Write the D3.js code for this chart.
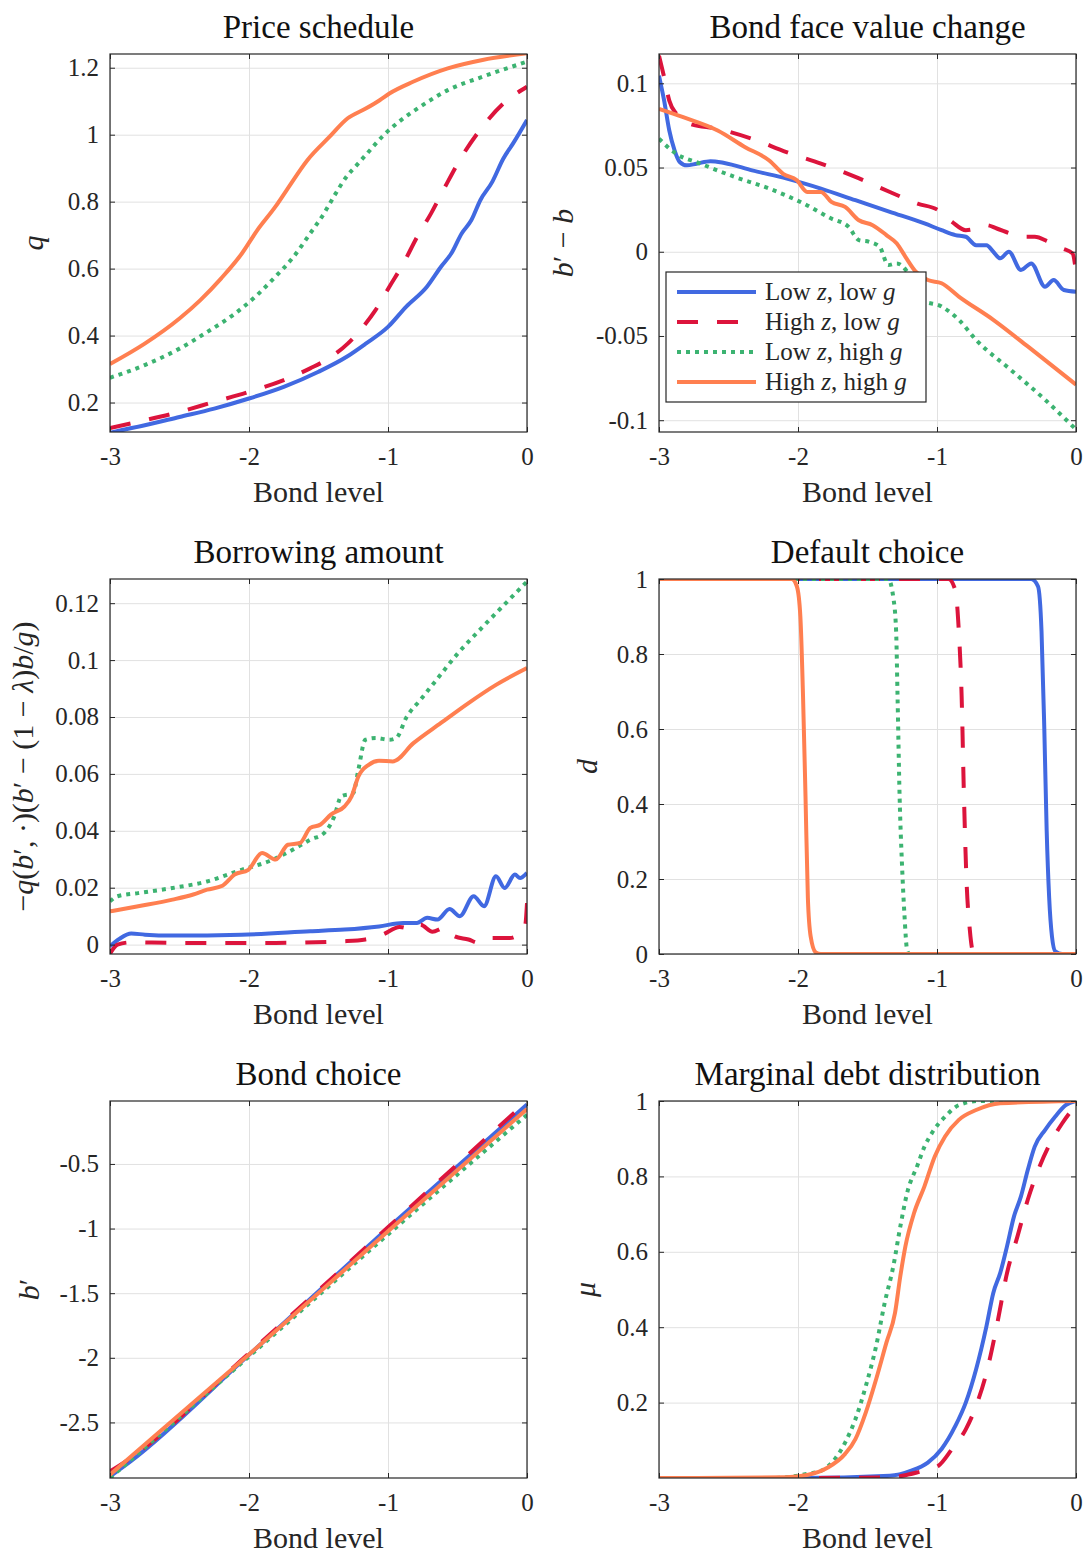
<!DOCTYPE html>
<html>
<head>
<meta charset="utf-8">
<script src="https://cdn.jsdelivr.net/npm/d3@7"></script>
<style>
  body { margin: 0; background: #fff; }
  svg text { font-family: "Liberation Serif", "Times New Roman", serif; }
</style>
</head>
<body>
<svg id="fig" width="1086" height="1555"></svg>
<script>
// ---- data ----
var bondTicks = [-3, -2, -1, 0];

// Price schedule, q
var qBlue = [[-3,0.110],[-2.75,0.132],[-2.5,0.157],[-2.25,0.182],[-2,0.212],[-1.75,0.247],[-1.5,0.292],[-1.3,0.336],[-1.16,0.376],[-1.0,0.426],[-0.87,0.486],[-0.72,0.546],[-0.62,0.605],[-0.545,0.645],[-0.47,0.705],[-0.40,0.745],[-0.335,0.805],[-0.25,0.859],[-0.17,0.929],[-0.1,0.974],[0,1.044]];
var qRed = [[-3,0.124],[-2.75,0.147],[-2.5,0.172],[-2.25,0.202],[-2,0.232],[-1.75,0.267],[-1.56,0.302],[-1.41,0.336],[-1.29,0.376],[-1.19,0.421],[-1.09,0.476],[-0.99,0.546],[-0.89,0.615],[-0.79,0.695],[-0.69,0.765],[-0.59,0.844],[-0.47,0.934],[-0.32,1.024],[-0.17,1.093],[0,1.143]];
var qGreen = [[-3,0.274],[-2.75,0.312],[-2.5,0.361],[-2.3,0.411],[-2.1,0.466],[-1.955,0.516],[-1.81,0.576],[-1.68,0.635],[-1.56,0.705],[-1.46,0.765],[-1.39,0.815],[-1.29,0.879],[-1.225,0.909],[-1.15,0.944],[-1.03,0.999],[-0.92,1.039],[-0.77,1.083],[-0.57,1.133],[-0.32,1.173],[0,1.218]];
var qOrange = [[-3,0.315],[-2.75,0.376],[-2.5,0.451],[-2.35,0.506],[-2.2,0.571],[-2.05,0.646],[-1.94,0.715],[-1.81,0.785],[-1.73,0.834],[-1.58,0.924],[-1.42,0.994],[-1.29,1.049],[-1.16,1.078],[-1.06,1.103],[-0.99,1.123],[-0.82,1.158],[-0.57,1.198],[-0.32,1.223],[0,1.243]];
var qTicks = [0.2, 0.4, 0.6, 0.8, 1, 1.2];

// Bond face value change, b' - b
var dbBlue = [[-3,0.1045],[-2.963,0.0897],[-2.926,0.072],[-2.888,0.0602],[-2.851,0.0533],[-2.80,0.0513],[-2.73,0.0523],[-2.63,0.0538],[-2.53,0.0527],[-2.33,0.0483],[-2.08,0.0434],[-1.835,0.0375],[-1.587,0.0306],[-1.339,0.0237],[-1.09,0.0168],[-0.967,0.0128],[-0.868,0.0099],[-0.793,0.0089],[-0.719,0.0039],[-0.644,0.0039],[-0.595,0.0],[-0.545,-0.0039],[-0.483,0.0],[-0.396,-0.0108],[-0.322,-0.0069],[-0.223,-0.0207],[-0.161,-0.0168],[-0.087,-0.0227],[0,-0.0237]];
var dbRed = [[-3,0.1164],[-2.963,0.1036],[-2.926,0.0897],[-2.876,0.0819],[-2.777,0.0759],[-2.578,0.0730],[-2.331,0.0671],[-2.083,0.0592],[-1.835,0.0523],[-1.587,0.0444],[-1.339,0.0355],[-1.14,0.0286],[-0.992,0.0247],[-0.892,0.0178],[-0.793,0.0128],[-0.719,0.0138],[-0.644,0.0158],[-0.57,0.0138],[-0.471,0.0108],[-0.396,0.0089],[-0.297,0.0089],[-0.198,0.0059],[-0.099,0.0020],[-0.025,-0.001],[0,-0.0118]];
var dbGreen = [[-3,0.0671],[-2.876,0.0582],[-2.702,0.0523],[-2.454,0.0444],[-2.207,0.0375],[-1.959,0.0286],[-1.76,0.0197],[-1.636,0.0148],[-1.562,0.0069],[-1.488,0.0059],[-1.413,0.0030],[-1.351,-0.0079],[-1.289,-0.0069],[-1.215,-0.0118],[-1.116,-0.0286],[-0.967,-0.0325],[-0.843,-0.0404],[-0.719,-0.0523],[-0.471,-0.0700],[-0.223,-0.0878],[0,-0.1055]];
var dbOrange = [[-3,0.0848],[-2.826,0.0799],[-2.578,0.072],[-2.38,0.0621],[-2.207,0.0542],[-2.107,0.0463],[-2.008,0.0424],[-1.934,0.0355],[-1.835,0.0355],[-1.76,0.0296],[-1.661,0.0266],[-1.562,0.0187],[-1.463,0.0158],[-1.364,0.0099],[-1.289,0.0049],[-1.227,-0.003],[-1.153,-0.0118],[-1.066,-0.0168],[-0.967,-0.0187],[-0.843,-0.0266],[-0.595,-0.0404],[-0.347,-0.0562],[0,-0.0789]];
var dbTicks = [-0.1, -0.05, 0, 0.05, 0.1];

// Borrowing amount
var baBlue = [[-3,-0.0006],[-2.933,0.0020],[-2.847,0.0039],[-2.748,0.0035],[-2.55,0.0032],[-2.054,0.0035],[-1.559,0.0047],[-1.312,0.0053],[-1.064,0.0064],[-0.891,0.0076],[-0.792,0.0076],[-0.718,0.0094],[-0.644,0.0088],[-0.557,0.0125],[-0.483,0.0100],[-0.384,0.0170],[-0.309,0.0135],[-0.223,0.0240],[-0.161,0.0199],[-0.087,0.0246],[-0.05,0.0234],[0,0.0252]];
var baRed = [[-3,-0.0032],[-2.946,0.0],[-2.847,0.0008],[-2.55,0.0006],[-1.807,0.0006],[-1.312,0.0012],[-1.163,0.0018],[-1.04,0.0035],[-0.916,0.0062],[-0.817,0.0053],[-0.767,0.0070],[-0.68,0.0045],[-0.594,0.0059],[-0.52,0.0029],[-0.421,0.0018],[-0.347,0.0006],[-0.272,0.0023],[-0.124,0.0023],[-0.05,0.0041],[-0.012,0.0070],[0,0.0146]];
var baGreen = [[-3,0.0152],[-2.946,0.0170],[-2.797,0.0181],[-2.55,0.0199],[-2.302,0.0222],[-2.054,0.0263],[-1.856,0.0293],[-1.683,0.0334],[-1.559,0.0369],[-1.46,0.0392],[-1.386,0.0451],[-1.337,0.0521],[-1.25,0.0533],[-1.213,0.0615],[-1.163,0.0720],[-1.089,0.0726],[-0.99,0.0720],[-0.941,0.0726],[-0.866,0.0800],[-0.767,0.0860],[-0.644,0.0935],[-0.495,0.1025],[-0.322,0.1115],[-0.173,0.1190],[0,0.1276]];
var baOrange = [[-3,0.0117],[-2.797,0.0135],[-2.55,0.0158],[-2.401,0.0176],[-2.302,0.0193],[-2.191,0.0207],[-2.104,0.0246],[-2.005,0.0263],[-1.906,0.0322],[-1.807,0.0299],[-1.72,0.0351],[-1.634,0.0357],[-1.559,0.0410],[-1.485,0.0422],[-1.411,0.0457],[-1.312,0.0486],[-1.262,0.0521],[-1.213,0.0591],[-1.139,0.0632],[-1.064,0.0646],[-0.965,0.0644],[-0.817,0.0708],[-0.619,0.0779],[-0.421,0.0849],[-0.223,0.0913],[0,0.0972]];
var baTicks = [0, 0.02, 0.04, 0.06, 0.08, 0.1, 0.12];

// Default choice, d
var dBlue = [[-3,1],[-0.322,1],[-0.273,0.98],[-0.248,0.86],[-0.228,0.60],[-0.211,0.33],[-0.193,0.15],[-0.173,0.047],[-0.149,0.007],[-0.099,0],[0,0]];
var dRed = [[-3,1],[-0.917,1],[-0.868,0.97],[-0.843,0.86],[-0.823,0.69],[-0.806,0.42],[-0.788,0.20],[-0.764,0.065],[-0.744,0.01],[-0.72,0],[0,0]];
var dGreen = [[-3,1],[-1.351,1],[-1.314,0.95],[-1.294,0.86],[-1.284,0.69],[-1.269,0.42],[-1.252,0.24],[-1.235,0.11],[-1.215,0.01],[-1.2,0],[0,0]];
var dOrange = [[-3,1],[-2.045,1],[-2.008,0.98],[-1.983,0.90],[-1.964,0.69],[-1.946,0.42],[-1.929,0.15],[-1.909,0.047],[-1.872,0.004],[-1.835,0],[0,0]];
var dTicks = [0, 0.2, 0.4, 0.6, 0.8, 1];

// Bond choice, b'
var bcBlue = [[-3,-2.918],[-2.85,-2.80],[-2,-1.977],[-1,-0.995],[0,-0.04]];
var bcRed = [[-3,-2.879],[-2.87,-2.789],[-2,-1.964],[-1,-0.99],[0,-0.015]];
var bcGreen = [[-3,-2.93],[-2,-1.99],[-1,-1.045],[0,-0.12]];
var bcOrange = [[-3,-2.905],[-2,-1.975],[-1,-1.02],[0,-0.075]];
var bcTicks = [-2.5, -2, -1.5, -1, -0.5];

// Marginal debt distribution, mu
var mBlue = [[-3,0],[-2,0],[-1.339,0.006],[-1.19,0.019],[-1.066,0.041],[-0.967,0.077],[-0.868,0.138],[-0.793,0.2],[-0.719,0.288],[-0.644,0.403],[-0.595,0.491],[-0.545,0.544],[-0.496,0.615],[-0.446,0.694],[-0.396,0.747],[-0.347,0.817],[-0.297,0.879],[-0.223,0.923],[-0.149,0.959],[-0.074,0.989],[0,1]];
var mRed = [[-3,0],[-2,0],[-1.339,0.002],[-1.14,0.015],[-0.992,0.032],[-0.892,0.077],[-0.793,0.129],[-0.719,0.191],[-0.644,0.279],[-0.57,0.403],[-0.496,0.544],[-0.421,0.641],[-0.347,0.738],[-0.272,0.817],[-0.198,0.879],[-0.099,0.941],[0,0.99]];
var mGreen = [[-3,0],[-2.2,0],[-2.083,0.002],[-1.934,0.011],[-1.835,0.019],[-1.735,0.05],[-1.661,0.094],[-1.587,0.156],[-1.512,0.244],[-1.438,0.35],[-1.376,0.465],[-1.314,0.562],[-1.264,0.667],[-1.215,0.756],[-1.14,0.83],[-1.09,0.879],[-1.03,0.919],[-0.94,0.959],[-0.843,0.989],[-0.7,1],[0,1]];
var mOrange = [[-3,0],[-2.083,0.002],[-1.934,0.008],[-1.785,0.028],[-1.661,0.064],[-1.587,0.103],[-1.512,0.174],[-1.438,0.262],[-1.364,0.359],[-1.302,0.438],[-1.264,0.535],[-1.227,0.615],[-1.165,0.703],[-1.091,0.773],[-1.016,0.853],[-0.942,0.906],[-0.843,0.95],[-0.719,0.976],[-0.545,0.994],[0,1]];
var mTicks = [0.2, 0.4, 0.6, 0.8, 1];

// legend text, [text, italic] pieces
var legendLabels = [
  [["Low ", 0], ["z", 1], [", low ", 0], ["g", 1]],
  [["High ", 0], ["z", 1], [", low ", 0], ["g", 1]],
  [["Low ", 0], ["z", 1], [", high ", 0], ["g", 1]],
  [["High ", 0], ["z", 1], [", high ", 0], ["g", 1]]
];

// ---- styles / layout ----
var FONT = "Liberation Serif, Times New Roman, serif";
var styles = [
  { color: "#4169E1", dash: null },
  { color: "#DC143C", dash: "21,19" },
  { color: "#3CB371", dash: "4,5" },
  { color: "#FF7F50", dash: null }
];
var axisColor = "#262626";
var gridColor = "#e1e1e1";
var colX = [110, 659], axW = 417;
var rowY = [54, 579, 1101], rowH = [378, 375, 377];

var panels = [
  { title: "Price schedule", col: 0, row: 0, yDomain: [0.112, 1.241], ticks: qTicks,
    series: [qBlue, qRed, qGreen, qOrange], ylab: [["q", 1]], ylx: -67 },
  { title: "Bond face value change", col: 1, row: 0, yDomain: [-0.107, 0.1174], ticks: dbTicks,
    series: [dbBlue, dbRed, dbGreen, dbOrange], ylab: [["b", 1], ["\u2032 \u2212 ", 0], ["b", 1]], ylx: -86, legend: true },
  { title: "Borrowing amount", col: 0, row: 1, yDomain: [-0.0033, 0.1285], ticks: baTicks,
    series: [baBlue, baRed, baGreen, baOrange],
    ylab: [["\u2212", 0], ["q", 1], ["(", 0], ["b", 1], ["\u2032, \u00b7)(", 0], ["b", 1], ["\u2032 \u2212 (1 \u2212 ", 0], ["\u03bb", 1], [")", 0], ["b", 1], ["/", 0], ["g", 1], [")", 0]],
    ylx: -77 },
  { title: "Default choice", col: 1, row: 1, yDomain: [0, 1], ticks: dTicks,
    series: [dBlue, dRed, dGreen, dOrange], ylab: [["d", 1]], ylx: -62 },
  { title: "Bond choice", col: 0, row: 2, yDomain: [-2.93, -0.013], ticks: bcTicks,
    series: [bcBlue, bcRed, bcGreen, bcOrange], ylab: [["b", 1], ["\u2032", 0]], ylx: -71 },
  { title: "Marginal debt distribution", col: 1, row: 2, yDomain: [0, 1], ticks: mTicks,
    series: [mBlue, mRed, mGreen, mOrange], ylab: [["\u03bc", 1]], ylx: -64 }
];

var svg = d3.select("#fig");

function richText(sel, pieces) {
  pieces.forEach(function(p) {
    sel.append("tspan").attr("font-style", p[1] ? "italic" : "normal").text(p[0]);
  });
}

function styleAxis(g, size) {
  g.attr("font-size", size).attr("color", axisColor).attr("font-family", FONT);
  g.select(".domain").remove();
}

function drawPanel(p, i) {
  var w = axW, h = rowH[p.row];
  var g = svg.append("g").attr("transform", "translate(" + colX[p.col] + "," + rowY[p.row] + ")");
  var x = d3.scaleLinear().domain([-3, 0]).range([0, w]);
  var y = d3.scaleLinear().domain(p.yDomain).range([h, 0]);

  // grid
  g.append("g")
    .call(d3.axisBottom(x).tickValues(bondTicks).tickSize(h).tickFormat(""))
    .call(function(a) { a.select(".domain").remove(); })
    .selectAll("line").attr("stroke", gridColor);
  g.append("g")
    .call(d3.axisLeft(y).tickValues(p.ticks).tickSize(-w).tickFormat(""))
    .call(function(a) { a.select(".domain").remove(); })
    .selectAll("line").attr("stroke", gridColor);

  // lines
  var clipId = "clip" + i;
  g.append("clipPath").attr("id", clipId)
    .append("rect").attr("width", w).attr("height", h);
  var line = d3.line()
    .x(function(d) { return x(d[0]); })
    .y(function(d) { return y(d[1]); })
    .curve(d3.curveMonotoneX);
  var lg = g.append("g").attr("clip-path", "url(#" + clipId + ")");
  p.series.forEach(function(s, k) {
    lg.append("path")
      .attr("d", line(s))
      .attr("fill", "none")
      .attr("stroke", styles[k].color)
      .attr("stroke-width", 4)
      .attr("stroke-dasharray", styles[k].dash)
      .attr("stroke-linejoin", "round");
  });

  // box + ticks on all sides, pointing inward
  g.append("rect").attr("width", w).attr("height", h)
    .attr("fill", "none").attr("stroke", axisColor).attr("stroke-width", 1.2);

  g.append("g").attr("transform", "translate(0," + h + ")")
    .call(d3.axisBottom(x).tickValues(bondTicks).tickSizeInner(-5).tickSizeOuter(0).tickPadding(15)
      .tickFormat(function(d) { return String(d); }))
    .call(function(a) { styleAxis(a, 25); });
  g.append("g")
    .call(d3.axisTop(x).tickValues(bondTicks).tickSizeInner(-5).tickSizeOuter(0).tickFormat(""))
    .call(function(a) { styleAxis(a, 25); });
  g.append("g")
    .call(d3.axisLeft(y).tickValues(p.ticks).tickSizeInner(-5).tickSizeOuter(0).tickPadding(11)
      .tickFormat(function(d) { return String(d); }))
    .call(function(a) { styleAxis(a, 25); });
  g.append("g").attr("transform", "translate(" + w + ",0)")
    .call(d3.axisRight(y).tickValues(p.ticks).tickSizeInner(-5).tickSizeOuter(0).tickFormat(""))
    .call(function(a) { styleAxis(a, 25); });

  // title and labels
  g.append("text").attr("x", w / 2).attr("y", -16)
    .attr("text-anchor", "middle").attr("font-size", 33).attr("font-family", FONT).attr("fill", "#111")
    .text(p.title);
  g.append("text").attr("x", w / 2).attr("y", h + 70)
    .attr("text-anchor", "middle").attr("font-size", 30).attr("font-family", FONT).attr("fill", axisColor)
    .text("Bond level");
  var yl = g.append("text")
    .attr("transform", "translate(" + p.ylx + "," + (h / 2) + ") rotate(-90)")
    .attr("text-anchor", "middle").attr("font-size", 30).attr("font-family", FONT).attr("fill", axisColor);
  richText(yl, p.ylab);

  if (p.legend) drawLegend(g);
}

function drawLegend(g) {
  var lx = 7, ly = 218, lw = 260, lh = 130;
  var leg = g.append("g").attr("transform", "translate(" + lx + "," + ly + ")");
  leg.append("rect").attr("width", lw).attr("height", lh)
    .attr("fill", "#fff").attr("stroke", axisColor).attr("stroke-width", 1.2);
  legendLabels.forEach(function(lab, k) {
    var cy = 20 + k * 30;
    leg.append("line").attr("x1", 11).attr("x2", 90).attr("y1", cy).attr("y2", cy)
      .attr("stroke", styles[k].color).attr("stroke-width", 4)
      .attr("stroke-dasharray", styles[k].dash);
    var t = leg.append("text").attr("x", 99).attr("y", cy + 8)
      .attr("font-size", 25).attr("font-family", FONT).attr("fill", axisColor);
    richText(t, lab);
  });
}

panels.forEach(drawPanel);
</script>
</body>
</html>
